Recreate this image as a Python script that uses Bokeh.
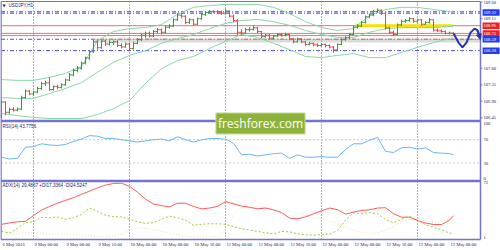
from bokeh.plotting import figure
from bokeh.models import Range1d, Label, ColumnDataSource, Arrow, NormalHead
from bokeh.transform import dodge
from bokeh.embed import file_html
from bokeh.resources import INLINE

# ---------------- data ----------------
BAR_T = list(range(-8, 106))  # hourly bar index, 0 = 9 May 00:00
OPEN = [106.50, 106.88, 106.60, 106.68, 106.66, 106.69, 107.00, 107.18, 107.10, 107.15,
        107.25, 107.38, 107.40, 107.22, 107.30, 107.28, 107.35, 107.48, 107.62, 107.74,
        107.80, 107.94, 108.08, 108.25, 108.52, 108.36, 108.54, 108.46, 108.50, 108.52,
        108.42, 108.38, 108.46, 108.34, 108.48, 108.58, 108.70, 108.75, 108.68, 108.80,
        108.85, 108.78, 108.92, 108.95, 109.12, 109.25, 109.22, 109.05, 109.12, 109.00,
        109.15, 109.26, 109.32, 109.35, 109.34, 109.33, 109.30, 109.36, 109.22, 109.10,
        108.78, 108.76, 108.85, 108.86, 108.90, 108.80, 108.66, 108.70, 108.62, 108.68,
        108.72, 108.70, 108.72, 108.60, 108.52, 108.60, 108.52, 108.45, 108.48, 108.44,
        108.42, 108.45, 108.42, 108.38, 108.30, 108.45, 108.58, 108.63, 108.72, 108.92,
        108.95, 109.05, 109.20, 109.25, 109.35, 109.38, 109.30, 108.90, 108.78, 108.72,
        108.98, 109.08, 109.10, 109.15, 109.08, 109.12, 109.00, 109.05, 109.12, 108.84,
        108.82, 108.80, 108.75, 108.76]
HIGH = [106.93, 106.90, 106.72, 106.74, 106.73, 107.05, 107.22, 107.20, 107.19, 107.30,
        107.43, 107.46, 107.55, 107.33, 107.35, 107.39, 107.52, 107.67, 107.79, 107.86,
        107.98, 108.12, 108.30, 108.58, 108.58, 108.58, 108.57, 108.56, 108.55, 108.56,
        108.48, 108.50, 108.50, 108.52, 108.62, 108.74, 108.80, 108.80, 108.84, 108.90,
        108.88, 108.96, 109.00, 109.16, 109.30, 109.31, 109.24, 109.16, 109.14, 109.18,
        109.30, 109.36, 109.39, 109.38, 109.38, 109.37, 109.41, 109.38, 109.26, 109.14,
        108.86, 108.90, 108.92, 108.96, 108.93, 108.82, 108.74, 108.73, 108.71, 108.76,
        108.76, 108.77, 108.74, 108.63, 108.64, 108.62, 108.55, 108.52, 108.50, 108.48,
        108.49, 108.47, 108.45, 108.40, 108.48, 108.62, 108.67, 108.76, 108.96, 109.00,
        109.09, 109.24, 109.29, 109.39, 109.43, 109.40, 109.32, 108.93, 108.82, 109.02,
        109.12, 109.14, 109.19, 109.17, 109.15, 109.14, 109.08, 109.17, 109.13, 108.88,
        108.86, 108.83, 108.80, 108.78]
LOW = [106.44, 106.52, 106.56, 106.62, 106.62, 106.66, 106.97, 107.07, 107.05, 107.12,
       107.21, 107.32, 107.18, 107.19, 107.23, 107.25, 107.32, 107.45, 107.58, 107.69,
       107.76, 107.90, 108.03, 108.22, 108.30, 108.33, 108.41, 108.42, 108.43, 108.38,
       108.34, 108.36, 108.29, 108.31, 108.45, 108.54, 108.63, 108.64, 108.65, 108.76,
       108.72, 108.75, 108.88, 108.92, 109.09, 109.16, 109.00, 109.01, 108.96, 108.98,
       109.12, 109.23, 109.29, 109.30, 109.29, 109.26, 109.27, 109.19, 109.06, 108.70,
       108.71, 108.74, 108.80, 108.83, 108.76, 108.62, 108.63, 108.58, 108.60, 108.65,
       108.66, 108.67, 108.56, 108.48, 108.50, 108.48, 108.41, 108.42, 108.40, 108.38,
       108.39, 108.37, 108.34, 108.22, 108.28, 108.43, 108.55, 108.60, 108.70, 108.88,
       108.92, 109.02, 109.16, 109.22, 109.31, 109.25, 108.85, 108.74, 108.68, 108.70,
       108.95, 109.04, 109.07, 109.04, 109.05, 108.96, 108.98, 109.02, 108.80, 108.79,
       108.77, 108.72, 108.72, 108.70]
CLOSE = [106.88, 106.60, 106.68, 106.66, 106.69, 107.00, 107.18, 107.10, 107.15, 107.25,
         107.38, 107.40, 107.22, 107.30, 107.28, 107.35, 107.48, 107.62, 107.74, 107.80,
         107.94, 108.08, 108.25, 108.52, 108.36, 108.54, 108.46, 108.50, 108.52, 108.42,
         108.38, 108.46, 108.34, 108.48, 108.58, 108.70, 108.75, 108.68, 108.80, 108.85,
         108.78, 108.92, 108.95, 109.12, 109.25, 109.22, 109.05, 109.12, 109.00, 109.15,
         109.26, 109.32, 109.35, 109.34, 109.33, 109.30, 109.36, 109.22, 109.10, 108.78,
         108.76, 108.85, 108.86, 108.90, 108.80, 108.66, 108.70, 108.62, 108.68, 108.72,
         108.70, 108.72, 108.60, 108.52, 108.60, 108.52, 108.45, 108.48, 108.44, 108.42,
         108.45, 108.42, 108.38, 108.30, 108.45, 108.58, 108.63, 108.72, 108.92, 108.95,
         109.05, 109.20, 109.25, 109.35, 109.38, 109.30, 108.90, 108.78, 108.72, 108.98,
         109.08, 109.10, 109.15, 109.08, 109.12, 109.00, 109.05, 109.12, 108.84, 108.82,
         108.80, 108.75, 108.76, 108.72]

BB_T = list(range(-8, 105, 4)) + [105]
BB_UPPER = [107.49, 107.47, 107.47, 107.55, 107.66, 107.85, 108.55, 108.80, 108.88, 108.91,
            108.99, 109.27, 109.46, 109.51, 109.54, 109.54, 109.54, 109.46, 109.29, 109.07,
            108.91, 108.83, 108.88, 109.24, 109.40, 109.46, 109.46, 109.40, 109.35, 109.35]
BB_MID = [107.00, 106.98, 106.98, 107.11, 107.25, 107.41, 107.69, 107.96, 108.15, 108.28,
          108.48, 108.61, 108.72, 108.88, 109.02, 109.10, 109.13, 109.07, 108.97, 108.83,
          108.72, 108.64, 108.64, 108.78, 108.88, 108.91, 108.91, 108.91, 108.94, 108.94]
BB_LOWER = [106.57, 106.51, 106.46, 106.43, 106.43, 106.43, 106.54, 106.70, 106.92, 107.39,
            107.79, 108.01, 108.12, 108.34, 108.53, 108.72, 108.64, 108.48, 108.31, 108.12,
            108.09, 108.15, 108.20, 108.09, 108.09, 108.23, 108.37, 108.50, 108.61, 108.64]

IND_T = list(range(-8, 105, 2)) + [105]
RSI = [40, 37, 38, 57, 58, 63, 61, 60, 62, 67,
       71, 77, 76, 72, 72, 70, 68, 66, 68, 70,
       71, 68, 75, 70, 66, 70, 72, 72, 71, 64,
       44, 45, 42, 44, 46, 47, 38, 44, 40, 40,
       41, 40, 40, 53, 63, 63, 69, 74, 50, 48,
       56, 57, 54, 56, 48, 47, 46, 43.7756]
ADX = [18.8, 20.5, 22, 22.5, 29.8, 36.5, 41, 45, 48.5, 52,
       56, 60, 64, 67.5, 69.5, 69.8, 66, 58.7, 50, 44,
       42, 40.5, 45, 45, 41, 38, 39, 41, 47, 44.3,
       41.5, 40, 38.1, 39, 36.8, 33.5, 26.5, 25.7, 28, 31.9,
       35.5, 39, 37, 31.5, 34, 36, 36.8, 39, 39.5, 32,
       27.7, 27.7, 23.5, 20.5, 18.6, 18.6, 24, 29.4867]
PDI = [10, 8, 14, 21, 22, 27.5, 27, 28, 25, 27,
       31, 39, 35, 30, 28.5, 28, 25, 22, 20, 21,
       25, 29, 27, 24, 17.4, 19, 19.5, 19.5, 18.8, 16,
       13.3, 12, 10, 8.5, 7.1, 10, 9.5, 7.1, 5.8, 5.2,
       6.2, 7, 11, 24, 33, 31.9, 33.5, 31.9, 25, 21,
       25, 29, 23.6, 18.5, 15, 12, 8, 7.5]
MDI = [11, 8, 7.5, 8.5, 9, 8, 7, 7, 7, 6,
       5.5, 5, 4, 4, 4.5, 7, 11, 14, 14, 12,
       10, 8, 6, 4.5, 3.5, 3, 3.5, 4, 12, 30,
       40, 40, 41.5, 40, 37, 32, 35.5, 33, 30, 27,
       25, 23, 20, 15, 11, 9, 7.5, 8, 12, 16,
       22, 25, 24.5, 23, 21.5, 22.5, 24.5, 24.52]

RED_LEVELS = [108.96, 108.75, 108.69]
BLUE_LEVELS = [109.34, 109.30, 108.59, 108.28]
TAG_PRICES = [109.32, 108.96, 108.75, 108.59, 108.28]
TAG_COLORS = ["#1f3cf0", "#f21c1c", "#f21c1c", "#1f3cf0", "#1f3cf0"]
SUPPORT_X = [14.75, 111.75]
SUPPORT_Y = [108.59, 108.59]
RESIST_X = [80.5, 104.75]
RESIST_Y = [108.96, 108.96]
FC_T = [105, 106.25, 107.25, 108.25, 109.25, 110.25, 111.0, 111.6]
FC_P = [108.75, 108.50, 108.37, 108.50, 108.77, 108.88, 108.83, 108.63]

PRICE_TICKS = [109.60, 109.15, 107.80, 107.35, 106.90, 106.45]
RSI_LEVELS = [70, 30]
RSI_MID_SCALE = [70, 30]
RSI_TOP, RSI_BOTTOM = 100, 0
ADX_TOP, ADX_BOTTOM = 72, 0
ADX_BOTTOM_TEXT = "1"
DAY_T = [0, 24, 48, 72, 96]
TIME_T = [-8, 0, 8, 16, 24, 32, 40, 48, 56, 64, 72, 80, 88, 96, 104]
TIME_LABELS = ["6 May 2016", "9 May 00:00", "9 May 08:00", "9 May 16:00", "10 May 00:00",
               "10 May 08:00", "10 May 16:00", "11 May 00:00", "11 May 08:00", "11 May 16:00",
               "12 May 00:00", "12 May 08:00", "12 May 16:00", "13 May 00:00", "13 May 08:00"]

# ---------------- layout constants (pane geometry in each pane's units) ----------------
X_LEFT, X_RIGHT = -8.125, 111.75          # left frame edge, price-scale line
MAIN_TOP, MAIN_FLOOR = 109.619, 103.134    # top edge / bottom of indicator panes in price units
SEP_RSI = [102.0, -0.9]                    # pane separators, RSI units
TIME_Y = -5.6                              # time labels row, ADX units

FONT = "Liberation Sans"
FS = "4.6px"
FRAME_BLUE = "#7474c8"
TXT = "#28285e"
GREEN = "#3a9a3a"
RED = "#ff3b3b"
BB_COLOR = "#8ad6a8"
FC_COLOR = "#2535b0"

p = figure(width=500, height=250, output_backend="svg", toolbar_location=None,
           x_range=Range1d(-8.25, 116.75), y_range=Range1d(102.834, 109.6463),
           x_axis_location=None, y_axis_location=None,
           min_border_left=0, min_border_right=0, min_border_top=0, min_border_bottom=0,
           background_fill_color="white", border_fill_color="white", outline_line_color=None)
p.grid.visible = False
p.extra_y_ranges = {"rsi": Range1d(-120.07, 308.75), "adx": Range1d(-13.65, 296.53)}

# day separators (dotted verticals through all panes)
p.segment(x0=DAY_T, y0=MAIN_TOP, x1=DAY_T, y1=MAIN_FLOOR, line_color="#5a5aa8",
          line_dash="1 2", line_width=1)

# horizontal price levels
p.segment(x0=X_LEFT, y0=BLUE_LEVELS, x1=X_RIGHT, y1=BLUE_LEVELS, line_color="#4a4af0",
          line_dash="4 2 1 2", line_width=1)
p.segment(x0=X_LEFT, y0=RED_LEVELS, x1=X_RIGHT, y1=RED_LEVELS, line_color="#ff6a6a", line_width=1)

# support line with shadow, resistance band
p.line(SUPPORT_X, [y - 0.05 for y in SUPPORT_Y], line_color="#b0b0b0", line_alpha=0.45, line_width=3)
p.line(SUPPORT_X, SUPPORT_Y, line_color="#d9a21e", line_dash="3 1", line_width=1.2)
p.line(RESIST_X, RESIST_Y, line_color="#f2e400", line_width=3)

# Bollinger bands
p.line(BB_T, BB_UPPER, line_color=BB_COLOR, line_width=1)
p.line(BB_T, BB_MID, line_color=BB_COLOR, line_width=1)
p.line(BB_T, BB_LOWER, line_color=BB_COLOR, line_width=1)

# OHLC bars
colors = [GREEN if c > o else (RED if c < o else "#222222") for o, c in zip(OPEN, CLOSE)]
src = ColumnDataSource(dict(t=BAR_T, o=OPEN, h=HIGH, l=LOW, c=CLOSE, color=colors))
p.segment(x0="t", y0="l", x1="t", y1="h", line_color="color", line_width=1, source=src)
p.segment(x0=dodge("t", -0.5, range=p.x_range), y0="o", x1="t", y1="o",
          line_color="color", line_width=1, source=src)
p.segment(x0="t", y0="c", x1=dodge("t", 0.5, range=p.x_range), y1="c",
          line_color="color", line_width=1, source=src)

# forecast path
p.line(FC_T, FC_P, line_color=FC_COLOR, line_width=2)
p.add_layout(Arrow(end=NormalHead(size=5, fill_color=FC_COLOR, line_color=FC_COLOR),
                   x_start=FC_T[-2], y_start=FC_P[-2], x_end=FC_T[-1] + 0.15, y_end=FC_P[-1] - 0.04,
                   line_color=FC_COLOR, line_width=2))

# RSI pane
p.segment(x0=X_LEFT, y0=RSI_LEVELS, x1=X_RIGHT, y1=RSI_LEVELS, y_range_name="rsi",
          line_color="#c8c8c8", line_dash="2 2", line_width=1)
p.line(IND_T, RSI, y_range_name="rsi", line_color="#6cb4f4", line_width=1)

# ADX pane
p.line(IND_T, MDI, y_range_name="adx", line_color="#f3dcae", line_dash="1 2", line_width=1)
p.line(IND_T, PDI, y_range_name="adx", line_color="#9ccc3c", line_dash="2 2", line_width=1)
p.line(IND_T, ADX, y_range_name="adx", line_color="#ff5a5a", line_width=1)

# frame: top, left, price-scale line, bottom, pane separators
p.segment(x0=X_LEFT, y0=MAIN_TOP, x1=X_RIGHT, y1=MAIN_TOP, line_color=FRAME_BLUE, line_width=1)
p.segment(x0=[X_LEFT, X_RIGHT], y0=MAIN_TOP, x1=[X_LEFT, X_RIGHT], y1=MAIN_FLOOR,
          line_color=FRAME_BLUE, line_width=1.5)
p.segment(x0=X_LEFT, y0=ADX_BOTTOM, x1=X_RIGHT, y1=ADX_BOTTOM, y_range_name="adx",
          line_color=FRAME_BLUE, line_width=1.5)
p.segment(x0=X_LEFT, y0=SEP_RSI, x1=X_RIGHT, y1=SEP_RSI, y_range_name="rsi",
          line_color=FRAME_BLUE, line_width=2.5)

# price scale: tick marks and labels
p.segment(x0=X_RIGHT, y0=PRICE_TICKS, x1=X_RIGHT + 0.5, y1=PRICE_TICKS,
          line_color=FRAME_BLUE, line_width=1)
p.text(x=X_RIGHT + 0.75, y=PRICE_TICKS, text=[f"{v:.2f}" for v in PRICE_TICKS],
       text_color=TXT, text_font=FONT, text_font_size=FS, text_align="left", text_baseline="middle")

# price tags
p.rect(x=X_RIGHT + 2.65, y=TAG_PRICES, width=17, height=6.5, width_units="screen",
       height_units="screen", fill_color=TAG_COLORS, line_color=None)
p.text(x=X_RIGHT + 0.75, y=TAG_PRICES, text=[f"{v:.2f}" for v in TAG_PRICES],
       text_color="white", text_font=FONT, text_font_size=FS, text_align="left",
       text_baseline="middle")

# RSI / ADX scale labels
p.text(x=X_RIGHT + 0.75, y=[RSI_TOP], text=[str(RSI_TOP)], y_range_name="rsi",
       text_color=TXT, text_font=FONT, text_font_size=FS, text_align="left", text_baseline="top")
p.text(x=X_RIGHT + 0.75, y=RSI_MID_SCALE, text=[str(v) for v in RSI_MID_SCALE], y_range_name="rsi",
       text_color=TXT, text_font=FONT, text_font_size=FS, text_align="left", text_baseline="middle")
p.text(x=X_RIGHT + 0.75, y=[RSI_BOTTOM], text=[str(RSI_BOTTOM)], y_range_name="rsi",
       text_color=TXT, text_font=FONT, text_font_size=FS, text_align="left", text_baseline="bottom")
p.text(x=X_RIGHT + 0.75, y=[ADX_TOP], text=[str(ADX_TOP)], y_range_name="adx",
       text_color=TXT, text_font=FONT, text_font_size=FS, text_align="left", text_baseline="top")
p.text(x=X_RIGHT + 0.75, y=[ADX_BOTTOM], text=[ADX_BOTTOM_TEXT], y_range_name="adx",
       text_color=TXT, text_font=FONT, text_font_size=FS, text_align="left", text_baseline="bottom")

# time labels
p.text(x=TIME_T, y=TIME_Y, text=TIME_LABELS, y_range_name="adx", x_offset=1,
       text_color=TXT, text_font=FONT, text_font_size=FS, text_align="left", text_baseline="middle")

# pane titles
p.add_layout(Label(x=-8.25, y=109.51, x_offset=2, text="\u25bc", text_color=TXT,
                   text_font="DejaVu Sans", text_font_size="4px", text_align="left",
                   text_baseline="middle"))
p.add_layout(Label(x=-8.25, y=109.51, x_offset=8, text="USDJPY,H1", text_color=TXT,
                   text_font=FONT, text_font_size=FS, text_align="left", text_baseline="middle"))
p.add_layout(Label(x=-8.25, y=93.0, y_range_name="rsi", x_offset=2, text="RSI(14) 43.7756",
                   text_color=TXT, text_font=FONT, text_font_size=FS, text_align="left",
                   text_baseline="middle"))
p.add_layout(Label(x=-8.25, y=67.0, y_range_name="adx", x_offset=2,
                   text="ADX(14) 29.4867 +DI17.3364 -DI24.5247",
                   text_color=TXT, text_font=FONT, text_font_size=FS, text_align="left",
                   text_baseline="middle"))

# watermark
p.add_layout(Label(x=56.75, y=97.8, y_range_name="rsi", text="freshforex.com",
                   text_color="white", text_font="Open Sans", text_font_size="12px",
                   text_align="center", text_baseline="middle",
                   background_fill_color="#8db33c", border_line_color="#c4dc92",
                   border_line_width=1, padding=2))

open("out.html", "w").write(file_html(p, INLINE))
